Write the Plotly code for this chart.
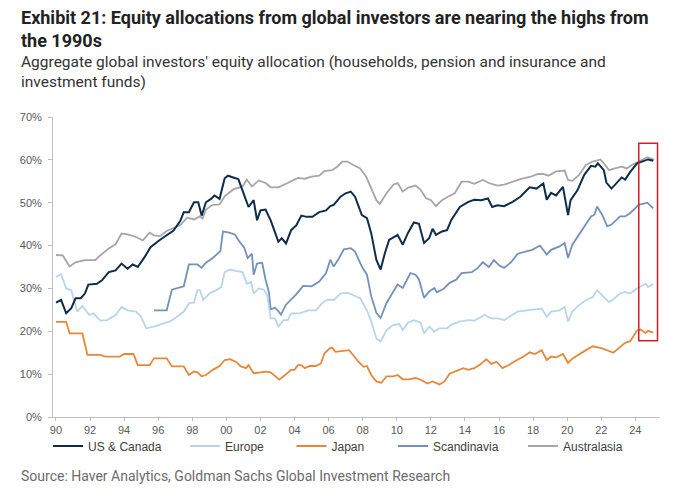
import plotly.graph_objects as go

# values (decimal year, % of portfolio in equities)
us_x = [1990.0, 1990.3, 1990.6, 1990.9, 1991.15, 1991.45, 1991.7, 1991.9, 1992.4, 1992.7,
        1993.1, 1993.5, 1993.85, 1994.2, 1994.5, 1994.8, 1995.2, 1995.55, 1996.05, 1996.5,
        1996.9, 1997.3, 1997.5, 1997.8, 1998.1, 1998.35, 1998.55, 1998.8, 1999.1, 1999.3,
        1999.6, 1999.9, 2000.1, 2000.4, 2000.7, 2000.95, 2001.3, 2001.6, 2001.8, 2002.0,
        2002.3, 2002.6, 2002.85, 2003.05, 2003.25, 2003.5, 2003.8, 2004.1, 2004.4, 2004.7,
        2005.05, 2005.45, 2005.85, 2006.1, 2006.3, 2006.7, 2007.0, 2007.3, 2007.55, 2007.95,
        2008.25, 2008.5, 2008.8, 2009.05, 2009.3, 2009.55, 2010.05, 2010.35, 2010.65, 2011.0,
        2011.3, 2011.6, 2011.9, 2012.1, 2012.3, 2012.65, 2012.95, 2013.2, 2013.7, 2014.2,
        2014.55, 2014.95, 2015.35, 2015.6, 2015.9, 2016.3, 2016.8, 2017.25, 2017.8, 2018.2,
        2018.6, 2018.8, 2019.05, 2019.35, 2019.75, 2020.05, 2020.2, 2020.6, 2021.0, 2021.4,
        2021.65, 2021.8, 2022.15, 2022.3, 2022.6, 2022.9, 2023.2, 2023.4, 2023.7, 2024.1,
        2024.45, 2024.75, 2025.05]
us_y = [26.7, 27.3, 24.2, 25.4, 27.7, 27.7, 28.8, 30.9, 31.1, 31.9,
        33.8, 34.2, 35.8, 34.6, 35.6, 35.0, 37.3, 39.6, 41.2, 42.4,
        43.5, 45.8, 47.8, 47.8, 50.1, 50.1, 47.0, 50.1, 50.9, 51.7,
        50.9, 55.7, 56.3, 55.9, 55.5, 52.8, 49.0, 50.6, 45.9, 48.2,
        48.4, 45.9, 43.2, 40.9, 41.7, 40.5, 43.6, 44.7, 47.0, 46.7,
        46.7, 47.8, 48.2, 49.2, 49.5, 51.4, 52.2, 52.6, 51.4, 47.1,
        46.4, 42.9, 36.7, 34.4, 38.2, 41.3, 42.5, 40.2, 42.9, 45.4,
        45.1, 40.6, 41.7, 43.9, 42.5, 43.3, 43.6, 46.0, 49.0, 50.2,
        50.7, 50.6, 51.0, 49.0, 49.4, 49.2, 50.2, 51.4, 53.6, 53.3,
        54.5, 50.7, 52.3, 51.7, 53.7, 47.1, 50.6, 52.9, 56.5, 58.6,
        58.4, 59.2, 57.6, 54.7, 53.3, 54.5, 55.9, 55.4, 57.2, 59.2,
        59.6, 60.1, 59.8]

europe_x = [1990.0, 1990.3, 1990.6, 1990.9, 1991.05, 1991.25, 1991.55, 1991.95, 1992.2, 1992.6,
            1993.0, 1993.5, 1993.85, 1994.2, 1994.7, 1995.0, 1995.3, 1995.75, 1996.35, 1996.7,
            1997.1, 1997.5, 1997.8, 1998.1, 1998.3, 1998.45, 1998.65, 1999.0, 1999.4, 1999.7,
            1999.9, 2000.2, 2000.55, 2000.95, 2001.2, 2001.45, 2001.6, 2001.9, 2002.2, 2002.4,
            2002.6, 2002.85, 2003.05, 2003.35, 2003.6, 2003.8, 2004.3, 2004.8, 2005.25, 2005.65,
            2005.95, 2006.3, 2006.7, 2007.1, 2007.45, 2007.85, 2008.25, 2008.5, 2008.8, 2009.05,
            2009.4, 2009.8, 2010.15, 2010.35, 2010.65, 2011.0, 2011.4, 2011.6, 2011.9, 2012.2,
            2012.5, 2012.95, 2013.2, 2013.7, 2014.2, 2014.55, 2015.15, 2015.55, 2015.9, 2016.3,
            2016.7, 2017.1, 2017.65, 2018.1, 2018.5, 2018.8, 2019.05, 2019.55, 2019.85, 2020.05,
            2020.3, 2020.7, 2021.1, 2021.5, 2021.75, 2022.05, 2022.45, 2022.7, 2023.1, 2023.4,
            2023.7, 2024.1, 2024.6, 2024.75, 2025.05]
europe_y = [32.7, 33.3, 30.0, 29.6, 27.3, 24.6, 25.9, 23.8, 24.2, 22.5,
            22.6, 23.8, 25.7, 24.9, 24.6, 23.4, 20.7, 21.1, 21.9, 22.3,
            23.4, 24.6, 26.5, 26.7, 29.6, 29.6, 27.3, 28.8, 29.6, 30.3,
            33.8, 34.4, 34.1, 33.8, 31.1, 31.5, 28.8, 30.0, 29.7, 28.4,
            23.0, 23.0, 21.1, 22.6, 22.6, 24.2, 24.2, 24.9, 24.9, 26.7,
            27.4, 27.3, 28.8, 29.0, 28.4, 27.7, 24.9, 22.3, 18.4, 17.6,
            20.3, 21.5, 21.7, 20.3, 22.0, 22.6, 22.0, 19.5, 21.1, 19.9,
            20.7, 20.7, 21.5, 22.3, 22.6, 22.5, 23.8, 23.0, 23.0, 22.6,
            23.6, 24.6, 24.9, 25.1, 25.3, 23.4, 24.6, 24.9, 25.7, 22.3,
            24.6, 26.1, 27.3, 28.0, 29.6, 28.4, 26.8, 27.4, 28.8, 29.2,
            28.8, 30.0, 31.1, 30.3, 31.0]

japan_x = [1990.0, 1990.6, 1990.8, 1991.55, 1991.85, 1992.6, 1992.9, 1993.75, 1994.0, 1994.55,
           1994.8, 1995.5, 1995.75, 1996.5, 1996.8, 1997.5, 1997.8, 1998.1, 1998.3, 1998.55,
           1998.8, 1999.2, 1999.6, 1999.9, 2000.2, 2000.55, 2000.85, 2001.15, 2001.3, 2001.6,
           2002.0, 2002.3, 2002.6, 2002.95, 2003.1, 2003.45, 2003.8, 2004.0, 2004.2, 2004.4,
           2004.6, 2004.9, 2005.25, 2005.55, 2005.75, 2006.05, 2006.2, 2006.4, 2006.7, 2007.2,
           2007.45, 2007.75, 2008.05, 2008.25, 2008.5, 2008.8, 2009.1, 2009.4, 2009.8, 2010.05,
           2010.35, 2010.7, 2011.1, 2011.4, 2011.8, 2012.1, 2012.5, 2012.8, 2013.1, 2013.5,
           2013.9, 2014.2, 2014.55, 2014.95, 2015.25, 2015.55, 2015.85, 2016.2, 2016.6, 2017.0,
           2017.45, 2017.8, 2018.1, 2018.5, 2018.8, 2019.05, 2019.35, 2019.75, 2020.05, 2020.3,
           2020.7, 2021.1, 2021.5, 2021.75, 2022.05, 2022.45, 2022.7, 2023.1, 2023.4, 2023.7,
           2024.1, 2024.3, 2024.6, 2024.75, 2025.05]
japan_y = [22.2, 22.2, 19.5, 19.5, 14.5, 14.5, 14.1, 14.1, 14.7, 14.7,
           12.1, 12.1, 13.7, 13.7, 11.8, 11.8, 9.8, 10.6, 10.4, 9.5,
           9.8, 11.0, 11.9, 13.3, 13.5, 12.9, 11.8, 11.4, 12.1, 10.2,
           10.4, 10.6, 10.4, 9.1, 8.7, 9.8, 11.0, 11.0, 12.1, 12.1,
           11.4, 11.9, 11.9, 12.5, 14.8, 16.0, 16.2, 15.2, 15.3, 15.6,
           14.4, 12.9, 11.7, 11.9, 9.8, 8.3, 8.0, 9.5, 9.5, 9.8,
           8.8, 8.8, 9.1, 8.7, 7.8, 8.3, 7.6, 8.3, 10.1, 10.8,
           11.4, 11.0, 11.4, 12.4, 13.5, 12.4, 12.9, 11.4, 12.2, 13.2,
           14.1, 15.1, 14.7, 15.6, 13.3, 14.1, 13.9, 14.7, 12.6, 13.6,
           14.7, 15.6, 16.5, 16.3, 16.0, 15.4, 15.0, 16.3, 17.3, 17.7,
           20.2, 20.4, 19.6, 20.1, 19.7]

scandi_x = [1995.75, 1996.5, 1996.8, 1997.5, 1997.8, 1998.3, 1998.55, 1998.8, 1999.2, 1999.5,
            1999.65, 1999.8, 2000.1, 2000.5, 2000.75, 2001.05, 2001.25, 2001.5, 2001.6, 2001.8,
            2002.1, 2002.3, 2002.5, 2002.6, 2002.85, 2003.05, 2003.2, 2003.5, 2004.1, 2004.5,
            2005.0, 2005.45, 2005.85, 2006.1, 2006.3, 2006.6, 2006.9, 2007.3, 2007.55, 2007.95,
            2008.25, 2008.5, 2008.8, 2009.05, 2009.4, 2009.8, 2010.05, 2010.35, 2010.8, 2011.1,
            2011.3, 2011.6, 2011.9, 2012.2, 2012.35, 2012.75, 2013.1, 2013.5, 2013.8, 2014.4,
            2014.75, 2015.05, 2015.4, 2015.7, 2016.0, 2016.3, 2016.7, 2017.1, 2017.55, 2017.95,
            2018.4, 2018.8, 2019.05, 2019.55, 2019.85, 2020.05, 2020.3, 2020.7, 2021.1, 2021.4,
            2021.6, 2021.75, 2022.05, 2022.35, 2022.6, 2023.1, 2023.4, 2023.7, 2024.2, 2024.7,
            2025.05]
scandi_y = [24.9, 24.9, 29.7, 30.5, 35.6, 35.6, 34.8, 36.0, 37.1, 38.3,
            38.7, 43.3, 43.1, 42.6, 41.0, 39.5, 37.1, 38.1, 33.2, 35.8,
            36.0, 32.1, 29.0, 25.1, 25.5, 24.7, 23.9, 26.2, 28.6, 30.6,
            30.5, 31.6, 33.6, 36.7, 35.1, 37.0, 39.1, 39.4, 38.6, 35.1,
            33.2, 28.2, 24.3, 23.1, 26.6, 29.3, 30.9, 30.1, 33.6, 33.2,
            32.1, 27.8, 29.3, 30.1, 29.1, 29.9, 31.3, 32.1, 33.6, 33.8,
            34.8, 36.1, 35.0, 36.6, 35.4, 34.8, 36.1, 38.1, 38.6, 39.0,
            40.0, 37.9, 39.0, 39.8, 40.6, 37.1, 40.2, 42.5, 44.9, 46.8,
            47.2, 49.1, 47.2, 44.5, 44.9, 46.8, 46.8, 47.6, 49.5, 50.0,
            48.7]

aus_x = [1990.0, 1990.4, 1990.8, 1991.15, 1991.7, 1992.3, 1992.6, 1993.1, 1993.5, 1993.85,
         1994.2, 1994.7, 1995.1, 1995.5, 1995.75, 1996.1, 1996.5, 1996.9, 1997.3, 1997.7,
         1998.1, 1998.45, 1998.6, 1998.8, 1999.2, 1999.6, 1999.9, 2000.4, 2000.75, 2000.95,
         2001.2, 2001.5, 2001.9, 2002.3, 2002.6, 2003.05, 2003.6, 2004.2, 2004.6, 2005.0,
         2005.45, 2005.75, 2006.2, 2006.5, 2006.8, 2007.1, 2007.45, 2007.85, 2008.2, 2008.5,
         2008.8, 2009.0, 2009.4, 2009.8, 2010.05, 2010.35, 2010.7, 2011.1, 2011.4, 2011.7,
         2012.0, 2012.3, 2012.65, 2013.0, 2013.4, 2013.8, 2014.2, 2014.55, 2015.05, 2015.4,
         2015.9, 2016.3, 2016.8, 2017.25, 2017.8, 2018.3, 2018.6, 2018.9, 2019.35, 2019.85,
         2020.05, 2020.3, 2020.7, 2021.1, 2021.5, 2021.95, 2022.15, 2022.45, 2022.8, 2023.2,
         2023.5, 2023.8, 2024.2, 2024.7, 2024.9, 2025.1]
aus_y = [37.8, 37.7, 35.1, 36.1, 36.6, 36.6, 37.7, 39.3, 40.3, 42.8,
         42.6, 42.0, 41.2, 43.0, 42.4, 42.2, 43.4, 44.1, 44.8, 46.5,
         46.1, 46.8, 46.3, 48.4, 49.5, 49.6, 51.5, 53.1, 53.5, 53.8,
         55.4, 53.8, 55.2, 54.6, 53.6, 53.6, 54.6, 55.8, 55.6, 56.1,
         56.3, 57.4, 57.6, 58.4, 59.6, 59.6, 58.8, 58.0, 56.1, 53.4,
         50.6, 49.7, 52.2, 54.2, 54.6, 52.6, 53.6, 54.0, 53.0, 51.1,
         50.6, 49.2, 50.6, 51.4, 52.2, 54.9, 54.9, 54.4, 55.3, 54.6,
         54.0, 54.2, 54.9, 55.5, 56.0, 56.7, 56.7, 56.3, 57.3, 57.5,
         55.3, 55.1, 56.5, 58.8, 59.6, 60.1, 59.2, 57.6, 58.0, 58.4,
         58.0, 58.8, 59.6, 60.6, 60.3, 60.0]

tick_years = list(range(1990, 2025, 2))
tick_labels = [f"{y % 100:02d}" for y in tick_years]

# highlighted recent-quarters window (red box)
box_x = [2024.2, 2025.3]
box_y = [17.8, 63.9]

# page body adds an 8px margin, so work in screen pixels and shift back
OFFSET = 8
SCR_L, SCR_R, SCR_T, SCR_B = 44, 660, 117, 417
PLOT_L, PLOT_R = SCR_L - OFFSET, SCR_R - OFFSET
PLOT_T, PLOT_B = SCR_T - OFFSET, SCR_B - OFFSET


def paper_x(screen_px):
    return (screen_px - SCR_L) / (SCR_R - SCR_L)


def paper_y(screen_py):
    return (SCR_B - screen_py) / (SCR_B - SCR_T)


# drawing order (back to front); each series gets its own legend so the
# uneven spacing of the reference legend can be kept
series = [
    ("Australasia", aus_x, aus_y, "#a6a6a6", 1.8, "legend5"),
    ("Scandinavia", scandi_x, scandi_y, "#7391bb", 1.8, "legend4"),
    ("Europe", europe_x, europe_y, "#b9d5eb", 1.8, "legend2"),
    ("Japan", japan_x, japan_y, "#e8873a", 1.8, "legend3"),
    ("US & Canada", us_x, us_y, "#0f2c4a", 2.0, "legend"),
]
# screen x where each legend label text starts in the reference
legend_text_x = {"legend": 85, "legend2": 224, "legend3": 332, "legend4": 435, "legend5": 567}

fig = go.Figure()
for name, xs, ys, color, width, leg in series:
    fig.add_trace(
        go.Scatter(
            x=xs,
            y=ys,
            mode="lines",
            name=name,
            legend=leg,
            line=dict(color=color, width=width),
        )
    )

fig.add_shape(
    type="rect",
    x0=box_x[0], x1=box_x[1], y0=box_y[0], y1=box_y[1],
    xref="x", yref="y",
    line=dict(color="#d0202a", width=1.5),
)

axis_font = dict(family="Liberation Sans, Arial, sans-serif", size=11, color="#595959")

fig.update_xaxes(
    range=[1990 - 3 / 17.294, 1990 + 613 / 17.294],
    tickvals=tick_years,
    ticktext=tick_labels,
    tickfont=axis_font,
    showgrid=False,
    zeroline=False,
    showline=True,
    linecolor="#bfbfbf",
    linewidth=1,
    ticks="outside",
    ticklen=3,
    tickcolor="#bfbfbf",
)
fig.update_yaxes(
    range=[0, 70],
    dtick=10,
    ticksuffix="%",
    tickfont=axis_font,
    showgrid=False,
    zeroline=False,
    showline=True,
    linecolor="#bfbfbf",
    linewidth=1,
    ticks="outside",
    ticklen=4,
    tickcolor="#bfbfbf",
    ticklabelstandoff=4,
)

text_font = "Roboto, Open Sans, sans-serif"
annotations = [
    ("<b>Exhibit 21: Equity allocations from global investors are nearing the highs from"
     "<br>the 1990s</b>", 29, dict(family=text_font, size=18, color="#222222")),
    ("Aggregate global investors' equity allocation (households, pension and insurance and"
     "<br>investment funds)", 72, dict(family=text_font, size=15.5, color="#333333")),
    ("Source: Haver Analytics, Goldman Sachs Global Investment Research", 476,
     dict(family=text_font, size=14, color="#6b6b6b")),
]
for text, py, font in annotations:
    fig.add_annotation(
        text=text,
        x=paper_x(10), y=paper_y(py),
        xref="paper", yref="paper",
        xanchor="left", yanchor="middle",
        align="left",
        showarrow=False,
        font=font,
    )

legend_font = dict(family="Liberation Sans, Arial, sans-serif", size=12, color="#404040")
legends = {}
for leg, text_x in legend_text_x.items():
    legends[leg] = dict(
        orientation="h",
        x=paper_x(text_x - 46),
        y=paper_y(446),
        xanchor="left",
        yanchor="middle",
        font=legend_font,
        bgcolor="rgba(0,0,0,0)",
        itemwidth=30,
    )

fig.update_layout(
    width=680,
    height=501,
    margin=dict(l=PLOT_L, r=680 - PLOT_R, t=PLOT_T, b=501 - PLOT_B),
    paper_bgcolor="white",
    plot_bgcolor="white",
    showlegend=True,
    **legends,
)

fig.write_html("out.html")
